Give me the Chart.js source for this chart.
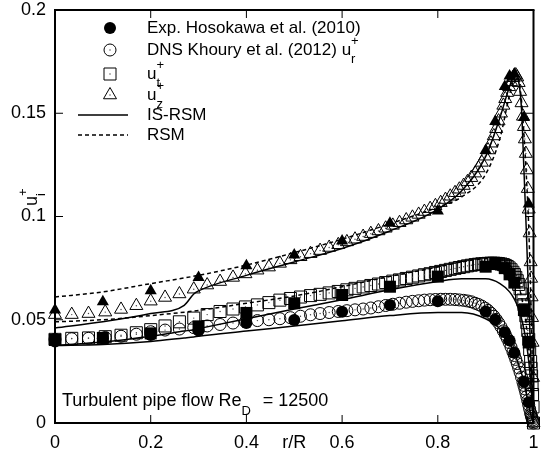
<!DOCTYPE html>
<html>
<head>
<meta charset="utf-8">
<script src="https://cdn.jsdelivr.net/npm/chart.js@4"></script>
</head>
<body style="margin:0">
<canvas id="chart" width="543" height="459"></canvas>
<script>
// DNS Khoury et al. (2012), radial positions and rms profiles
const dnsR = [0, 0.035, 0.07, 0.105, 0.138, 0.17, 0.2, 0.23, 0.26, 0.29,
    0.318, 0.345, 0.372, 0.398, 0.423, 0.447, 0.47, 0.492, 0.513, 0.534,
    0.554, 0.573, 0.592, 0.61, 0.627, 0.644, 0.66, 0.676, 0.691, 0.706,
    0.72, 0.734, 0.747, 0.76, 0.772, 0.784, 0.795, 0.806, 0.816, 0.826,
    0.836, 0.845, 0.854, 0.862, 0.87, 0.878, 0.885, 0.892, 0.899, 0.905,
    0.911, 0.917, 0.922, 0.927, 0.932, 0.937, 0.941, 0.945, 0.949, 0.953,
    0.957, 0.96, 0.963, 0.966, 0.969, 0.972, 0.975, 0.978, 0.98, 0.982,
    0.984, 0.986, 0.988, 0.99, 0.992, 0.994, 0.995, 0.996, 0.997, 0.998,
    0.999, 1.0];
const dnsUr = [0.0405, 0.0408, 0.041, 0.0414, 0.042, 0.043, 0.0442, 0.045, 0.0455, 0.0462,
    0.047, 0.0477, 0.0484, 0.049, 0.0496, 0.05, 0.0505, 0.051, 0.0517, 0.0524,
    0.053, 0.0535, 0.054, 0.0544, 0.0548, 0.0552, 0.0557, 0.0563, 0.0569, 0.0575,
    0.058, 0.0585, 0.0589, 0.0592, 0.0595, 0.0597, 0.0598, 0.0599, 0.0599, 0.0599,
    0.0598, 0.0596, 0.0594, 0.0591, 0.0587, 0.058, 0.0574, 0.0566, 0.0556, 0.0545,
    0.0532, 0.0517, 0.0502, 0.0485, 0.0466, 0.0446, 0.0428, 0.041, 0.039, 0.0368,
    0.0345, 0.0327, 0.0308, 0.0288, 0.0267, 0.0245, 0.0222, 0.0198, 0.0182, 0.0165,
    0.0147, 0.0128, 0.0108, 0.0088, 0.0068, 0.0049, 0.004, 0.0031, 0.0023, 0.0015,
    0.0007, 0];
const dnsUt = [0.0405, 0.041, 0.0412, 0.0418, 0.0425, 0.0437, 0.0452, 0.047, 0.049, 0.0508,
    0.0525, 0.054, 0.0552, 0.0562, 0.0572, 0.0583, 0.0595, 0.0603, 0.061, 0.0617,
    0.0623, 0.063, 0.0637, 0.0645, 0.0652, 0.0659, 0.0666, 0.0673, 0.068, 0.0687,
    0.0693, 0.07, 0.0706, 0.0712, 0.0718, 0.0723, 0.0729, 0.0734, 0.0739, 0.0744,
    0.0749, 0.0753, 0.0757, 0.0761, 0.0764, 0.0767, 0.0769, 0.0771, 0.0772, 0.0773,
    0.0774, 0.0774, 0.0773, 0.0772, 0.077, 0.0767, 0.0763, 0.0758, 0.0751, 0.0742,
    0.073, 0.0719, 0.0705, 0.0689, 0.0671, 0.065, 0.0625, 0.0595, 0.0573, 0.0548,
    0.0519, 0.0486, 0.0448, 0.0405, 0.0356, 0.0298, 0.0265, 0.0228, 0.0186, 0.0138,
    0.0078, 0];
const dnsUz = [0.0525, 0.0525, 0.053, 0.0537, 0.055, 0.0568, 0.059, 0.0608, 0.0625, 0.0648,
    0.0668, 0.0685, 0.0705, 0.0722, 0.074, 0.0755, 0.0773, 0.079, 0.0805, 0.082,
    0.0835, 0.085, 0.0863, 0.0877, 0.089, 0.0903, 0.0917, 0.093, 0.0943, 0.0957,
    0.097, 0.0983, 0.0996, 0.101, 0.1024, 0.1038, 0.1052, 0.1067, 0.1082, 0.1098,
    0.1115, 0.1132, 0.115, 0.1168, 0.1188, 0.121, 0.1235, 0.1262, 0.1292, 0.1322,
    0.1355, 0.139, 0.1425, 0.1462, 0.15, 0.1538, 0.157, 0.16, 0.1628, 0.1652,
    0.1672, 0.1682, 0.1685, 0.1675, 0.1648, 0.1605, 0.155, 0.1485, 0.1435, 0.1375,
    0.1305, 0.1225, 0.1135, 0.1035, 0.092, 0.078, 0.07, 0.061, 0.051, 0.039,
    0.022, 0];

// Exp. Hosokawa et al. (2010)
const expR = [0, 0.1, 0.2, 0.3, 0.4, 0.5, 0.6, 0.7, 0.8, 0.9, 0.92, 0.94, 0.95, 0.96, 0.98, 0.99];
const expUr = [0.0395, 0.041, 0.0426, 0.0448, 0.0484, 0.0499, 0.0539, 0.0571, 0.059, 0.054, 0.05, 0.044, 0.04, 0.034, 0.02, 0.01];
const expUt = [0.0402, 0.0412, 0.0434, 0.0468, 0.0533, 0.058, 0.062, 0.066, 0.0709, 0.0757, 0.077, 0.075, 0.072, 0.068, 0.0547, 0.039];
const expUz = [0.0547, 0.0587, 0.064, 0.0704, 0.0762, 0.0814, 0.0881, 0.0967, 0.1027, 0.132, 0.146, 0.163, 0.168, 0.169, 0.148, 0.106];

// IS-RSM model
const isR = [0, 0.1, 0.2, 0.27, 0.29, 0.3, 0.4, 0.5, 0.6, 0.7, 0.8, 0.85, 0.9, 0.93, 0.95, 0.96, 0.965, 0.97, 0.975, 0.98, 0.985, 0.99, 0.995, 1.0];
const isUr = [0.0375, 0.038, 0.0395, 0.0412, 0.0417, 0.042, 0.0445, 0.047, 0.0495, 0.052, 0.0535, 0.0535, 0.0505, 0.0455, 0.0385, 0.034, 0.031, 0.0275, 0.024, 0.02, 0.0145, 0.0085, 0.0035, 0];
const isUt = [0.0375, 0.0392, 0.042, 0.0445, 0.0452, 0.0457, 0.0505, 0.0552, 0.0597, 0.0645, 0.0685, 0.0698, 0.0698, 0.0675, 0.0635, 0.06, 0.0575, 0.0545, 0.0505, 0.0455, 0.039, 0.03, 0.017, 0];
const isUz = [0.046, 0.049, 0.053, 0.057, 0.0625, 0.064, 0.0715, 0.078, 0.0845, 0.093, 0.1035, 0.1125, 0.129, 0.148, 0.163, 0.1685, 0.169, 0.164, 0.152, 0.1225, 0.093, 0.06, 0.028, 0];

// RSM model
const rsmR = [0, 0.1, 0.2, 0.3, 0.4, 0.5, 0.6, 0.7, 0.8, 0.85, 0.9, 0.93, 0.95, 0.96, 0.965, 0.97, 0.975, 0.98, 0.985, 0.99, 0.995, 1.0];
const rsmUt = [0.049, 0.05, 0.052, 0.0545, 0.058, 0.0615, 0.066, 0.071, 0.0755, 0.078, 0.0795, 0.079, 0.0765, 0.073, 0.07, 0.066, 0.061, 0.055, 0.047, 0.036, 0.021, 0];
const rsmUz = [0.061, 0.0635, 0.0675, 0.0715, 0.0765, 0.0825, 0.089, 0.0965, 0.1045, 0.1095, 0.1205, 0.138, 0.159, 0.167, 0.168, 0.165, 0.156, 0.14, 0.12, 0.095, 0.055, 0];

const xTicks = [0, 0.2, 0.4, 0.6, 0.8, 1];
const xTickLabels = ['0', '0.2', '0.4', '0.6', '0.8', '1'];
const yTicks = [0, 0.05, 0.1, 0.15, 0.2];
const yTickLabels = ['0', '0.05', '0.1', '0.15', '0.2'];

const FONT = '"Liberation Sans", Arial, sans-serif';

function pts(xs, ys) {
    return xs.map((x, i) => ({ x: x, y: ys[i] }));
}

function openSet(data, style, radius) {
    return {
        data: data,
        showLine: false,
        pointStyle: style,
        pointRadius: radius,
        pointBackgroundColor: 'rgba(0,0,0,0)',
        pointBorderColor: '#000',
        pointBorderWidth: 1,
        clip: false,
        order: 4,
    };
}
// small dot in the middle of the open gnuplot markers
function dotSet(data) {
    return {
        data: data,
        showLine: false,
        pointStyle: 'circle',
        pointRadius: 0.7,
        pointBackgroundColor: '#444',
        pointBorderWidth: 0,
        clip: false,
        order: 3,
    };
}
function filledSet(data, style, radius) {
    return {
        data: data,
        showLine: false,
        pointStyle: style,
        pointRadius: radius,
        pointBackgroundColor: '#000',
        pointBorderColor: '#000',
        pointBorderWidth: 0,
        clip: false,
        order: 2,
    };
}
function lineSet(data, dashed) {
    return {
        data: data,
        showLine: true,
        pointRadius: 0,
        borderColor: '#000',
        borderWidth: 1.5,
        borderDash: dashed ? [4, 3] : [],
        cubicInterpolationMode: 'monotone',
        order: 1,
    };
}

// text with subscript / superscript after the base
function richText(ctx, x, y, base, sub, sup, size) {
    size = size || 17;
    ctx.font = size + 'px ' + FONT;
    ctx.fillText(base, x, y);
    const w = ctx.measureText(base).width;
    ctx.font = '13px ' + FONT;
    if (sub) ctx.fillText(sub, x + w, y + 9);
    if (sup) ctx.fillText(sup, x + w, y - 9);
    ctx.font = size + 'px ' + FONT;
}

// plot box with inward ticks on all four sides
const framePlugin = {
    id: 'frame',
    afterDraw(chart) {
        const ctx = chart.ctx;
        const a = chart.chartArea;
        ctx.save();
        ctx.fillStyle = '#000';
        ctx.fillRect(a.left - 1, a.top - 1, a.right - a.left + 2, 2);
        ctx.fillRect(a.left - 1, a.bottom - 1, a.right - a.left + 2, 2);
        ctx.fillRect(a.left - 1, a.top, 2, a.bottom - a.top);
        ctx.fillRect(a.right - 1, a.top, 2, a.bottom - a.top);
        xTicks.forEach((v) => {
            const px = chart.scales.x.getPixelForValue(v);
            ctx.fillRect(px - 0.5, a.bottom - 8, 1, 8);
            ctx.fillRect(px - 0.5, a.top, 1, 8);
        });
        yTicks.forEach((v) => {
            const py = chart.scales.y.getPixelForValue(v);
            ctx.fillRect(a.left, py - 0.5, 8, 1);
            ctx.fillRect(a.right - 8, py - 0.5, 8, 1);
        });
        ctx.restore();
    },
};

const textPlugin = {
    id: 'texts',
    afterDraw(chart) {
        const ctx = chart.ctx;
        const a = chart.chartArea;
        const xs = chart.scales.x;
        const ys = chart.scales.y;
        ctx.save();
        ctx.fillStyle = '#000';

        // tick labels
        ctx.font = '18px ' + FONT;
        ctx.textBaseline = 'middle';
        ctx.textAlign = 'center';
        xTicks.forEach((v, i) => {
            ctx.fillText(xTickLabels[i], xs.getPixelForValue(v), a.bottom + 20);
        });
        ctx.fillText('r/R', xs.getPixelForValue(0.5), a.bottom + 20);
        ctx.textAlign = 'right';
        yTicks.forEach((v, i) => {
            ctx.fillText(yTickLabels[i], a.left - 9, ys.getPixelForValue(v));
        });
        ctx.textAlign = 'left';

        // legend
        const lx = 110, tx = 147;
        const rows = [28, 50, 74, 95, 115, 135];
        ctx.strokeStyle = '#000';
        ctx.beginPath();
        ctx.arc(lx, rows[0], 6, 0, Math.PI * 2);
        ctx.fill();
        ctx.lineWidth = 1;
        ctx.beginPath();
        ctx.arc(lx, rows[1], 6, 0, Math.PI * 2);
        ctx.rect(lx - 6, rows[2] - 6, 12, 12);
        ctx.moveTo(lx, rows[3] - 7.5);
        ctx.lineTo(lx + 6.5, rows[3] + 3.75);
        ctx.lineTo(lx - 6.5, rows[3] + 3.75);
        ctx.closePath();
        ctx.stroke();
        ctx.fillStyle = '#444';
        [rows[1], rows[2], rows[3]].forEach((ry) => {
            ctx.fillRect(lx - 0.6, ry - 0.6, 1.2, 1.2);
        });
        ctx.fillStyle = '#000';
        ctx.fillRect(78, rows[4] - 0.75, 50, 1.5);
        for (let dx = 78; dx < 128; dx += 7) {
            ctx.fillRect(dx, rows[5] - 0.75, Math.min(4, 128 - dx), 1.5);
        }

        richText(ctx, tx, rows[0], 'Exp. Hosokawa et al. (2010)');
        richText(ctx, tx, rows[1], 'DNS Khoury et al. (2012) u', 'r', '+');
        richText(ctx, tx, rows[2], 'u', 't', '+');
        richText(ctx, tx, rows[3], 'u', 'z', '+');
        richText(ctx, tx, rows[4], 'IS-RSM');
        richText(ctx, tx, rows[5], 'RSM');

        // annotation
        ctx.font = '18px ' + FONT;
        ctx.fillText('Turbulent pipe flow Re', 62, 401);
        const w = ctx.measureText('Turbulent pipe flow Re').width;
        ctx.font = '13px ' + FONT;
        ctx.fillText('D', 62 + w, 411);
        const wd = ctx.measureText('D').width;
        ctx.font = '18px ' + FONT;
        ctx.fillText('= 12500', 62 + w + wd + 12, 401);

        // y axis title, rotated
        ctx.translate(32, 206);
        ctx.rotate(-Math.PI / 2);
        richText(ctx, 0, 0, 'u', 'i', '+', 18);
        ctx.restore();
    },
};

new Chart('chart', {
    type: 'scatter',
    data: {
        datasets: [
            openSet(pts(dnsR, dnsUr), 'circle', 6),
            openSet(pts(dnsR, dnsUt), 'rect', 8.5),
            openSet(pts(dnsR, dnsUz), 'triangle', 7.5),
            dotSet(pts(dnsR, dnsUr)),
            dotSet(pts(dnsR, dnsUt)),
            dotSet(pts(dnsR, dnsUz)),
            filledSet(pts(expR, expUr), 'circle', 6),
            filledSet(pts(expR, expUt), 'rect', 8.5),
            filledSet(pts(expR, expUz), 'triangle', 7),
            lineSet(pts(isR, isUr), false),
            lineSet(pts(isR, isUt), false),
            lineSet(pts(isR, isUz), false),
            lineSet(pts(rsmR, rsmUt), true),
            lineSet(pts(rsmR, rsmUz), true),
        ],
    },
    options: {
        responsive: false,
        devicePixelRatio: 1,
        animation: false,
        events: [],
        layout: { padding: { left: 55, right: 5, top: 10, bottom: 36 } },
        plugins: {
            legend: { display: false },
            tooltip: { enabled: false },
        },
        scales: {
            x: { type: 'linear', min: 0, max: 1, display: false },
            y: { type: 'linear', min: 0, max: 0.2, display: false },
        },
    },
    plugins: [textPlugin, framePlugin],
});
</script>
</body>
</html>
